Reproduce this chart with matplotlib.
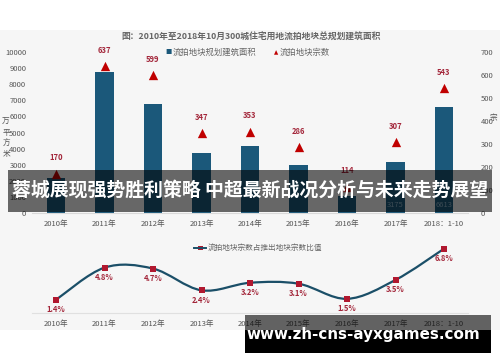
import numpy as np
import matplotlib
matplotlib.use("Agg")
import matplotlib.pyplot as plt
from matplotlib.patches import Rectangle
from matplotlib.path import Path
from matplotlib.patches import PathPatch

plt.rcParams['font.family'] = ['Noto Sans CJK SC', 'DejaVu Sans']

categories = ["2010年", "2011年", "2012年", "2013年", "2014年", "2015年", "2016年", "2017年", "2018：1-10"]
area = [2200, 8780, 6770, 3750, 4160, 2980, 1075, 3175, 6613]
area_labels = {7: "3175", 8: "6613"}
counts = [170, 637, 599, 347, 353, 286, 114, 307, 543]
ratio = [1.4, 4.8, 4.7, 2.4, 3.2, 3.1, 1.5, 3.5, 6.8]
ratio_labels = ["1.4%", "4.8%", "4.7%", "2.4%", "3.2%", "3.1%", "1.5%", "3.5%", "6.8%"]

title = "图：2010年至2018年10月300城住宅用地流拍地块总规划建筑面积"
leg_bar = "流拍地块规划建筑面积"
leg_tri = "流拍地块宗数"
leg_line = "流拍地块宗数占推出地块宗数比值"
banner = "蓉城展现强势胜利策略 中超最新战况分析与未来走势展望"
url = "www.zh-cns-ayxgames.com"

W, H = 500, 362
fig = plt.figure(figsize=(5, 3.62), dpi=100)
fig.patch.set_facecolor('white')

def fx(x): return x / W
def fy(y): return 1 - y / H

BAR = '#1b587a'
RED = '#c00000'
LRED = '#a3263a'
TXT = '#555555'

# chart image background
fig.add_artist(Rectangle((0, fy(330)), 1, fy(30) - fy(330), transform=fig.transFigure,
                         facecolor='#f6f6f6', edgecolor='none', zorder=-5))

# ---- top chart ----
x0, x1 = 31.75, 468.25
ax = fig.add_axes([fx(x0), fy(213), fx(x1) - fx(x0), fy(52) - fy(213)])
ax.set_facecolor('none')
xs = np.arange(len(categories))
ax.bar(xs, area, width=0.38, color=BAR, zorder=2)
ax.set_xlim(-0.5, len(categories) - 0.5)
ax.set_ylim(0, 10000)
ax.set_yticks(np.arange(0, 10001, 1000))
ax.set_yticklabels([str(v) for v in range(0, 10001, 1000)], fontsize=5.5, color=TXT)
ax.set_xticks(xs)
ax.set_xticklabels(categories, fontsize=5.5, color=TXT)
ax.tick_params(length=0, pad=4)
ax.tick_params(axis='x', pad=5)
for s in ['top', 'right', 'left']:
    ax.spines[s].set_visible(False)
ax.spines['bottom'].set_color('#d9d9d9')
ax.spines['bottom'].set_linewidth(0.8)
for i, t in area_labels.items():
    ax.text(i, 500, t, ha='center', va='center', fontsize=5.5, color='#8fb3c8', zorder=3)

ax2 = ax.twinx()
ax2.set_ylim(0, 700)
ax2.scatter(xs, counts, marker='^', s=45, color=RED, zorder=4, linewidths=0)
for i, c in enumerate(counts):
    ax2.text(i, c + 50, str(c), ha='center', va='bottom', fontsize=5.5, color=LRED,
             fontweight='bold')
ax2.set_yticks(np.arange(0, 701, 100))
ax2.set_yticklabels([str(v) for v in range(0, 701, 100)], fontsize=5.5, color=TXT)
ax2.tick_params(length=0, pad=9)
for s in ax2.spines.values():
    s.set_visible(False)

fig.text(fx(251), fy(37), title, ha='center', va='center', fontsize=6.3, color='#666666',
         fontweight='bold')
fig.text(fx(168), fy(52), "■", ha='center', va='center', fontsize=4.5, color=BAR)
fig.text(fx(173), fy(52), leg_bar, ha='left', va='center', fontsize=6, color='#666666')
fig.text(fx(276), fy(52.5), "▲", ha='center', va='center', fontsize=4, color=RED,
         family=['DejaVu Sans'])
fig.text(fx(280), fy(52), leg_tri, ha='left', va='center', fontsize=6, color='#666666')
for k, ch in enumerate("万平方米"):
    fig.text(fx(6), fy(122 + k * 10.5), ch, ha='center', va='center', fontsize=5.5, color=TXT)
fig.text(fx(493), fy(118), "宗", ha='center', va='center', fontsize=5.5, color=TXT)

# ---- bottom chart ----
bx = fig.add_axes([fx(x0), fy(313), fx(x1) - fx(x0), fy(237.4) - fy(313)])
bx.set_facecolor('none')
bx.set_xlim(-0.5, len(categories) - 0.5)
bx.set_ylim(0, 8)
bx.set_yticks([])
bx.set_xticks(xs)
bx.set_xticklabels(categories, fontsize=5.5, color=TXT)
bx.tick_params(length=0, pad=5)
for s in ['top', 'right', 'left']:
    bx.spines[s].set_visible(False)
bx.spines['bottom'].set_color('#e0e0e0')
bx.spines['bottom'].set_linewidth(0.8)

# smooth curve through the data points (cubic Bezier rendering)
px = np.asarray(xs, dtype=float)
py = np.asarray(ratio, dtype=float)
verts = [(px[0], py[0])]
codes = [Path.MOVETO]
t = 1 / 6
n = len(px)
for i in range(n - 1):
    p0 = (px[max(i - 1, 0)], py[max(i - 1, 0)])
    p1 = (px[i], py[i])
    p2 = (px[i + 1], py[i + 1])
    p3 = (px[min(i + 2, n - 1)], py[min(i + 2, n - 1)])
    c1 = (p1[0] + (p2[0] - p0[0]) * t, p1[1] + (p2[1] - p0[1]) * t)
    c2 = (p2[0] - (p3[0] - p1[0]) * t, p2[1] - (p3[1] - p1[1]) * t)
    verts += [c1, c2, p2]
    codes += [Path.CURVE4] * 3
bx.add_patch(PathPatch(Path(verts, codes), facecolor='none', edgecolor='#1b4f68', lw=1.6, zorder=3))
bx.scatter(xs, ratio, marker='s', s=16, color='#b0182f', zorder=4, linewidths=0)
for i, (v, lab) in enumerate(zip(ratio, ratio_labels)):
    bx.text(i, v - 0.55, lab, ha='center', va='top', fontsize=5.5, color=LRED, fontweight='bold')

fig.add_artist(plt.Line2D([fx(194), fx(206)], [fy(248), fy(248)], transform=fig.transFigure,
                          color='#1b4f68', lw=1.4))
fig.add_artist(Rectangle((fx(197.5), fy(250)), fx(5) - fx(0), fy(246) - fy(250),
                         transform=fig.transFigure, facecolor='#b0182f', edgecolor='none'))
fig.text(fx(208), fy(248), leg_line, ha='left', va='center', fontsize=5.5, color='#666666')

# ---- overlays ----
fig.add_artist(Rectangle((fx(8), fy(212)), fx(484) - fx(0), fy(170) - fy(212),
                         transform=fig.transFigure, facecolor='black', alpha=0.58,
                         edgecolor='none', zorder=10))
fig.text(fx(250), fy(190), banner, ha='center', va='center', fontsize=13.6, color='white',
         fontweight='bold', zorder=11)

fig.add_artist(Rectangle((fx(245), fy(330)), fx(246) - fx(0), fy(315) - fy(330),
                         transform=fig.transFigure, facecolor='black', alpha=0.6,
                         edgecolor='none', zorder=10))
fig.add_artist(Rectangle((fx(245), fy(353)), fx(246) - fx(0), fy(330) - fy(353),
                         transform=fig.transFigure, facecolor='black',
                         edgecolor='none', zorder=10))
fig.text(fx(363), fy(335), url, ha='center', va='center', fontsize=10.9, color='white',
         fontweight='bold', family=['DejaVu Sans'], zorder=11)

fig.savefig('out.png', dpi=100)
